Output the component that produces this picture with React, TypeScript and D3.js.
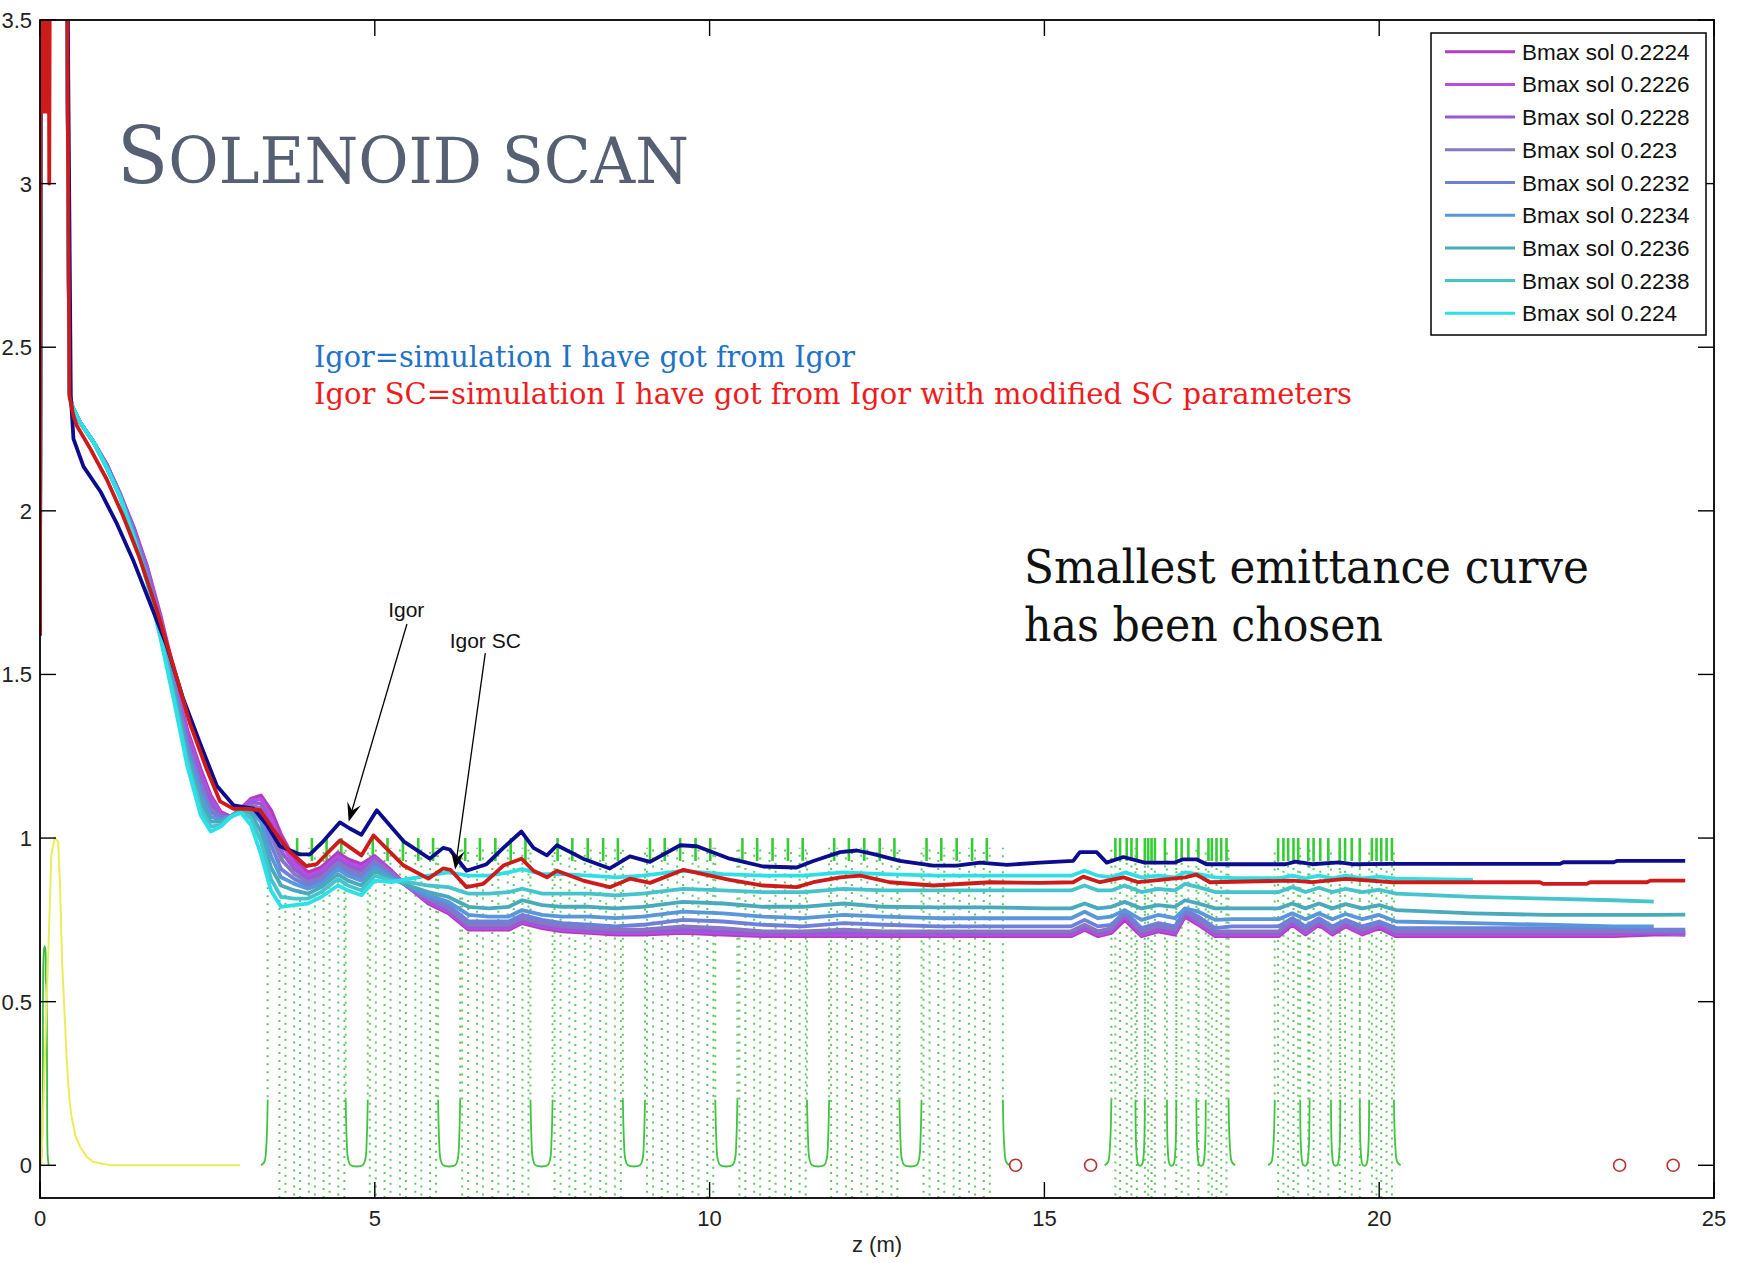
import React from 'react';
import * as d3 from 'd3';

const WIDTH = 1742;
const HEIGHT = 1263;

const X_DOMAIN: [number, number] = [0, 25];
const Y_DOMAIN: [number, number] = [-0.1, 3.5];
const xTicks = [0, 5, 10, 15, 20, 25];
const xTickLabels = ['0', '5', '10', '15', '20', '25'];
const yTicks = [0, 0.5, 1, 1.5, 2, 2.5, 3, 3.5];
const yTickLabels = ['0', '0.5', '1', '1.5', '2', '2.5', '3', '3.5'];

const legendLabels = [
  'Bmax sol 0.2224', 'Bmax sol 0.2226', 'Bmax sol 0.2228', 'Bmax sol 0.223', 'Bmax sol 0.2232',
  'Bmax sol 0.2234', 'Bmax sol 0.2236', 'Bmax sol 0.2238', 'Bmax sol 0.224',
];
const legendColors = [
  '#b23cbc', '#b64ee4', '#9858dc', '#8876c0', '#6e80dc', '#5a96da', '#48aabb', '#46c4cc', '#2ee0e6',
];

// common start (off-scale spike) of the Bmax curves
const spikeZ = [0, 0.012, 0.395, 0.44];
const spikeV = [1.62, 3.9, 3.9, 2.36];

const bmaxZ = [0.48, 0.6, 0.8, 1.0, 1.2, 1.4, 1.6, 1.8, 2.0, 2.2, 2.4, 2.55, 2.7, 2.85, 3.0, 3.15, 3.3, 3.45, 3.6, 3.8,
  4.0, 4.2, 4.45, 4.6, 4.8, 5.0, 5.25, 5.5, 5.8, 6.1, 6.4, 6.7, 7.0, 7.2, 7.5, 7.8, 8.2, 8.6, 9.0, 9.6,
  10.2, 10.8, 11.4, 12.0, 12.6, 13.4, 14.2, 15.0, 15.4, 15.6, 15.8, 16.0, 16.2, 16.45, 16.7, 16.95, 17.1, 17.3, 17.55, 17.8,
  18.5, 18.7, 18.9, 19.1, 19.3, 19.5, 19.75, 20.0, 20.25, 21.4, 22.5, 23.5, 24.1, 24.57];

const bmax2224 = [2.32, 2.27, 2.21, 2.14, 2.05, 1.95, 1.83, 1.68, 1.51, 1.33, 1.21, 1.13, 1.08, 1.065, 1.09, 1.12, 1.13, 1.085, 1.01, 0.935,
  0.895, 0.91, 0.955, 0.935, 0.92, 0.945, 0.90, 0.85, 0.80, 0.77, 0.72, 0.72, 0.72, 0.74, 0.725, 0.715, 0.71, 0.705, 0.705, 0.71,
  0.705, 0.70, 0.70, 0.70, 0.70, 0.70, 0.70, 0.70, 0.70, 0.72, 0.70, 0.71, 0.75, 0.70, 0.715, 0.705, 0.76, 0.735, 0.70, 0.70,
  0.70, 0.735, 0.705, 0.735, 0.705, 0.73, 0.705, 0.725, 0.70, 0.70, 0.70, 0.70, 0.705, 0.705];
const bmax2226 = [2.32, 2.27, 2.21, 2.14, 2.05, 1.945, 1.825, 1.67, 1.50, 1.32, 1.195, 1.12, 1.075, 1.065, 1.09, 1.115, 1.12, 1.065, 0.985, 0.92,
  0.885, 0.90, 0.945, 0.925, 0.91, 0.94, 0.895, 0.85, 0.805, 0.775, 0.725, 0.725, 0.725, 0.745, 0.73, 0.72, 0.715, 0.71, 0.71, 0.715,
  0.71, 0.705, 0.705, 0.705, 0.705, 0.705, 0.705, 0.705, 0.705, 0.725, 0.705, 0.715, 0.76, 0.705, 0.72, 0.71, 0.765, 0.74, 0.705, 0.705,
  0.705, 0.74, 0.71, 0.74, 0.71, 0.735, 0.71, 0.73, 0.705, 0.705, 0.705, 0.705, 0.71, 0.705];
const bmax2228 = [2.32, 2.27, 2.21, 2.14, 2.05, 1.94, 1.82, 1.665, 1.49, 1.305, 1.18, 1.105, 1.07, 1.065, 1.09, 1.11, 1.105, 1.04, 0.96, 0.905,
  0.875, 0.89, 0.935, 0.915, 0.90, 0.935, 0.89, 0.85, 0.81, 0.78, 0.73, 0.73, 0.73, 0.75, 0.735, 0.725, 0.72, 0.715, 0.715, 0.72,
  0.715, 0.71, 0.71, 0.71, 0.71, 0.71, 0.71, 0.71, 0.71, 0.73, 0.71, 0.72, 0.765, 0.71, 0.725, 0.715, 0.77, 0.745, 0.71, 0.71,
  0.71, 0.745, 0.715, 0.745, 0.715, 0.74, 0.715, 0.735, 0.71, 0.71, 0.71, 0.71, 0.71, 0.71];
const bmax2230 = [2.32, 2.27, 2.21, 2.135, 2.045, 1.935, 1.81, 1.655, 1.48, 1.29, 1.165, 1.09, 1.065, 1.065, 1.09, 1.10, 1.09, 1.01, 0.935, 0.89,
  0.865, 0.88, 0.925, 0.905, 0.89, 0.93, 0.89, 0.85, 0.815, 0.785, 0.735, 0.735, 0.735, 0.755, 0.74, 0.73, 0.725, 0.72, 0.72, 0.73,
  0.725, 0.715, 0.715, 0.72, 0.715, 0.715, 0.715, 0.715, 0.715, 0.735, 0.715, 0.725, 0.77, 0.715, 0.73, 0.72, 0.775, 0.75, 0.715, 0.715,
  0.715, 0.75, 0.72, 0.75, 0.72, 0.745, 0.72, 0.74, 0.715, 0.715, 0.715, 0.715, 0.715, 0.715];
const bmax2232 = [2.32, 2.27, 2.21, 2.135, 2.045, 1.935, 1.805, 1.645, 1.47, 1.28, 1.15, 1.08, 1.06, 1.065, 1.09, 1.095, 1.07, 0.98, 0.905, 0.875,
  0.855, 0.87, 0.915, 0.895, 0.88, 0.92, 0.885, 0.85, 0.82, 0.795, 0.745, 0.745, 0.745, 0.765, 0.75, 0.74, 0.735, 0.73, 0.735, 0.75,
  0.745, 0.735, 0.73, 0.74, 0.735, 0.73, 0.73, 0.73, 0.73, 0.75, 0.73, 0.735, 0.775, 0.725, 0.74, 0.73, 0.78, 0.76, 0.725, 0.73,
  0.73, 0.755, 0.73, 0.755, 0.73, 0.75, 0.73, 0.745, 0.725, 0.725, 0.725, 0.725, 0.72, 0.72];
const bmax2234 = [2.32, 2.27, 2.21, 2.135, 2.045, 1.93, 1.80, 1.64, 1.455, 1.265, 1.135, 1.065, 1.055, 1.065, 1.09, 1.085, 1.05, 0.945, 0.88, 0.86,
  0.845, 0.86, 0.905, 0.885, 0.87, 0.91, 0.88, 0.855, 0.825, 0.805, 0.765, 0.76, 0.76, 0.78, 0.765, 0.76, 0.76, 0.755, 0.76, 0.775,
  0.77, 0.76, 0.755, 0.765, 0.76, 0.755, 0.755, 0.755, 0.755, 0.775, 0.755, 0.76, 0.78, 0.75, 0.765, 0.755, 0.785, 0.775, 0.75, 0.752,
  0.752, 0.77, 0.752, 0.77, 0.752, 0.768, 0.752, 0.765, 0.745, 0.74, 0.735, 0.73, 0.73, null];
const bmax2236 = [2.32, 2.27, 2.21, 2.13, 2.04, 1.925, 1.79, 1.63, 1.445, 1.25, 1.115, 1.05, 1.05, 1.065, 1.085, 1.075, 1.02, 0.91, 0.855, 0.84,
  0.83, 0.85, 0.89, 0.87, 0.855, 0.90, 0.875, 0.855, 0.835, 0.82, 0.79, 0.785, 0.79, 0.81, 0.795, 0.79, 0.79, 0.785, 0.79, 0.805,
  0.80, 0.79, 0.79, 0.80, 0.79, 0.788, 0.788, 0.785, 0.785, 0.80, 0.785, 0.79, 0.805, 0.785, 0.795, 0.79, 0.81, 0.80, 0.785, 0.785,
  0.785, 0.80, 0.785, 0.80, 0.785, 0.798, 0.785, 0.795, 0.78, 0.77, 0.765, 0.765, 0.765, 0.766];
const bmax2238 = [2.32, 2.27, 2.21, 2.13, 2.04, 1.92, 1.785, 1.62, 1.43, 1.235, 1.09, 1.035, 1.04, 1.065, 1.08, 1.06, 0.99, 0.875, 0.82, 0.815,
  0.815, 0.835, 0.875, 0.855, 0.84, 0.885, 0.87, 0.865, 0.855, 0.85, 0.83, 0.83, 0.835, 0.845, 0.83, 0.83, 0.83, 0.825, 0.83, 0.845,
  0.84, 0.835, 0.835, 0.845, 0.84, 0.84, 0.84, 0.84, 0.84, 0.855, 0.84, 0.84, 0.855, 0.835, 0.845, 0.84, 0.86, 0.85, 0.835, 0.835,
  0.835, 0.85, 0.835, 0.848, 0.835, 0.845, 0.835, 0.842, 0.83, 0.82, 0.815, 0.81, 0.806, null];
const bmax2240 = [2.32, 2.27, 2.21, 2.13, 2.04, 1.92, 1.78, 1.61, 1.42, 1.22, 1.07, 1.02, 1.035, 1.065, 1.077, 1.04, 0.95, 0.84, 0.79, 0.795,
  0.80, 0.82, 0.855, 0.84, 0.825, 0.87, 0.865, 0.875, 0.885, 0.895, 0.885, 0.885, 0.895, 0.905, 0.89, 0.89, 0.885, 0.88, 0.885, 0.90,
  0.89, 0.885, 0.885, 0.895, 0.89, 0.885, 0.885, 0.885, 0.885, 0.90, 0.885, 0.88, 0.895, 0.88, 0.885, 0.88, 0.895, 0.89, 0.88, 0.878,
  0.877, 0.885, 0.877, 0.885, 0.877, 0.885, 0.877, 0.882, 0.876, 0.872, null, null, null, null];

const bmaxSeries = [bmax2224, bmax2226, bmax2228, bmax2230, bmax2232, bmax2234, bmax2236, bmax2238, bmax2240];

// "Igor" simulation (dark blue)
const igorPoints: [number, number][] = [
  [0, 1.62], [0.012, 3.9], [0.40, 3.9], [0.46, 2.35], [0.50, 2.22], [0.65, 2.135], [0.9, 2.06], [1.15, 1.96], [1.39, 1.85],
  [1.64, 1.72], [1.89, 1.59], [2.14, 1.425], [2.39, 1.29], [2.64, 1.16], [2.89, 1.10], [3.19, 1.09], [3.39, 1.04], [3.58, 0.976],
  [3.88, 0.95], [4.03, 0.95], [4.23, 0.99], [4.48, 1.048], [4.62, 1.03], [4.80, 1.01], [5.03, 1.085], [5.43, 0.99], [5.82, 0.937],
  [6.02, 0.97], [6.12, 0.965], [6.37, 0.90], [6.67, 0.92], [6.92, 0.97], [7.19, 1.02], [7.37, 0.97], [7.57, 0.947], [7.72, 0.978],
  [8.11, 0.937], [8.51, 0.907], [8.81, 0.944], [9.11, 0.927], [9.56, 0.978], [9.81, 0.975], [10.3, 0.937], [10.8, 0.913], [11.3, 0.91],
  [11.55, 0.93], [11.95, 0.957], [12.2, 0.962], [12.45, 0.951], [12.84, 0.93], [13.34, 0.916], [13.69, 0.916], [14.04, 0.925],
  [14.44, 0.918], [14.93, 0.925], [15.43, 0.93], [15.53, 0.957], [15.78, 0.957], [15.93, 0.925], [16.18, 0.942], [16.5, 0.925],
  [16.95, 0.925], [17.07, 0.935], [17.27, 0.935], [17.42, 0.92], [18.6, 0.92], [18.75, 0.928], [19.0, 0.92], [19.4, 0.926],
  [19.6, 0.92], [20.2, 0.921], [22.7, 0.921], [22.75, 0.926], [23.5, 0.926], [23.55, 0.93], [24.57, 0.93],
];

// "Igor SC" simulation (red)
const igorScPoints: [number, number][] = [
  [0, 1.62], [0.01, 3.9], [0.022, 3.22], [0.034, 3.9], [0.046, 3.22], [0.058, 3.9], [0.07, 3.22], [0.082, 3.9], [0.094, 3.22],
  [0.106, 3.9], [0.118, 3.25], [0.128, 3.9], [0.138, 3.0], [0.15, 3.9], [0.395, 3.9], [0.44, 2.35], [0.5, 2.29], [0.55, 2.26],
  [0.75, 2.19], [1.0, 2.095], [1.24, 1.985], [1.49, 1.855], [1.74, 1.70], [1.99, 1.527], [2.24, 1.35], [2.49, 1.21], [2.69, 1.112],
  [2.89, 1.089], [3.09, 1.09], [3.29, 1.085], [3.49, 1.024], [3.73, 0.958], [3.98, 0.914], [4.13, 0.92], [4.33, 0.962], [4.48, 0.993],
  [4.80, 0.947], [4.98, 1.008], [5.43, 0.916], [5.80, 0.876], [6.02, 0.907], [6.13, 0.903], [6.37, 0.85], [6.62, 0.86], [6.92, 0.916],
  [7.19, 0.937], [7.37, 0.90], [7.57, 0.88], [7.72, 0.90], [8.11, 0.87], [8.51, 0.85], [8.81, 0.876], [9.11, 0.863], [9.61, 0.903],
  [10.3, 0.872], [10.8, 0.855], [11.3, 0.85], [11.55, 0.865], [11.95, 0.88], [12.25, 0.885], [12.69, 0.865], [13.34, 0.855],
  [14.19, 0.865], [14.93, 0.863], [15.43, 0.865], [15.58, 0.882], [15.83, 0.865], [16.18, 0.88], [16.4, 0.865], [17.1, 0.88],
  [17.27, 0.888], [17.47, 0.865], [18.7, 0.87], [19.0, 0.865], [19.5, 0.875], [20.2, 0.865], [22.4, 0.865], [22.45, 0.86],
  [23.1, 0.86], [23.15, 0.865], [24.0, 0.865], [24.05, 0.87], [24.57, 0.87],
];

// yellow trace near the gun
const yellowPoints: [number, number][] = [
  [0.02, 0], [0.1, 0.5], [0.17, 0.95], [0.22, 1.0], [0.27, 0.99], [0.3, 0.85], [0.33, 0.62], [0.37, 0.45], [0.4, 0.32],
  [0.44, 0.2], [0.47, 0.15], [0.53, 0.09], [0.6, 0.056], [0.7, 0.025], [0.8, 0.01], [1.0, 0.002], [1.05, 0], [2.99, 0],
];
// green trace near the gun
const greenStartPoints: [number, number][] = [
  [0.0, 0], [0.02, 0.02], [0.04, 0.2], [0.05, 0.62], [0.065, 0.67], [0.08, 0.66], [0.085, 0.57], [0.095, 0.55],
  [0.105, 0.3], [0.115, 0.03], [0.13, 0],
];

// green lattice (accelerating structures)
const latticeWideU = [4.73, 6.11, 7.49, 8.87, 10.25, 11.62, 13.0];
const latticeNarrowU = [16.43, 16.9, 17.34, 18.89, 19.35, 19.78];
const latticeRise = [3.40, 16.0, 18.44];
const latticeFall = [14.38, 17.75, 20.22];
const latticeTicksA = [
  3.62, 3.84, 4.06, 4.28, 4.50, 4.97, 5.19, 5.42, 5.65, 5.87, 6.35, 6.57, 6.80, 7.03, 7.25,
  7.73, 7.95, 8.18, 8.41, 8.63, 9.11, 9.33, 9.56, 9.79, 10.01, 10.49, 10.71, 10.94, 11.17, 11.39,
  11.86, 12.08, 12.31, 12.54, 12.76, 13.24, 13.46, 13.69, 13.92, 14.14,
];
const latticeTicksBC = [
  16.06, 16.13, 16.23, 16.30, 16.38, 16.50, 16.55, 16.60, 16.65, 16.80, 16.97, 17.05, 17.15, 17.30, 17.45, 17.50, 17.57, 17.64, 17.72,
  18.49, 18.57, 18.64, 18.72, 18.79, 18.94, 19.02, 19.12, 19.24, 19.41, 19.49, 19.59, 19.71, 19.89, 19.96, 20.03, 20.11, 20.19,
];

const circleZ = [14.57, 15.69, 23.59, 24.39];

// annotations (data coordinates)
const annotations = [
  { label: 'Igor', textZ: 5.47, textV: 1.675, tailZ: 5.48, tailV: 1.654, tipZ: 4.61, tipV: 1.05 },
  { label: 'Igor SC', textZ: 6.65, textV: 1.58, tailZ: 6.65, tailV: 1.565, tipZ: 6.20, tipV: 0.904 },
];

const PLOT = { left: 40, right: 1714, top: 20, bottom: 1198 };
const AXIS_FONT = "'Liberation Sans', Arial, sans-serif";
const SERIF = "'DejaVu Serif', serif";

function Arrow({ x1, y1, x2, y2 }: { x1: number; y1: number; x2: number; y2: number }) {
  const ang = Math.atan2(y2 - y1, x2 - x1);
  const L = 19;
  const Wd = 14;
  const ex = x2 - Math.cos(ang) * L * 0.6;
  const ey = y2 - Math.sin(ang) * L * 0.6;
  return (
    <g>
      <line x1={x1} y1={y1} x2={ex} y2={ey} stroke="#000" strokeWidth={1.3} />
      <path
        d={`M0,0 L${-L},${-Wd / 2} L${-L * 0.62},0 L${-L},${Wd / 2} Z`}
        transform={`translate(${x2},${y2}) rotate(${(ang * 180) / Math.PI})`}
        fill="#000"
      />
    </g>
  );
}

export default function App() {
  const x = d3.scaleLinear().domain(X_DOMAIN).range([PLOT.left, PLOT.right]);
  const y = d3.scaleLinear().domain(Y_DOMAIN).range([PLOT.bottom, PLOT.top]);

  const line = d3
    .line<[number, number | null]>()
    .defined((d) => d[1] !== null && d[1] !== undefined)
    .x((d) => x(d[0]))
    .y((d) => y(d[1] as number));
  const smooth = d3
    .line<[number, number]>()
    .x((d) => x(d[0]))
    .y((d) => y(d[1]))
    .curve(d3.curveCatmullRom);

  const bmaxPaths = bmaxSeries.map((vals) => {
    const pts: [number, number | null][] = spikeZ.map((z, i) => [z, spikeV[i]] as [number, number]);
    bmaxZ.forEach((z, i) => {
      const v = i < vals.length ? vals[i] : null;
      pts.push([z, v === undefined ? null : v]);
    });
    return line(pts) || '';
  });

  const uWide = (c: number): [number, number][] => [
    [c - 0.165, 0.2], [c - 0.15, 0.08], [c - 0.13, 0.02], [c - 0.09, 0], [c + 0.09, 0], [c + 0.13, 0.02], [c + 0.15, 0.08], [c + 0.165, 0.2],
  ];
  const uNarrow = (c: number): [number, number][] => [
    [c - 0.07, 0.2], [c - 0.06, 0.06], [c - 0.04, 0.01], [c - 0.02, 0], [c + 0.02, 0], [c + 0.04, 0.01], [c + 0.06, 0.06], [c + 0.07, 0.2],
  ];
  const riseEdge = (e: number): [number, number][] => [[e - 0.1, 0], [e - 0.05, 0.01], [e - 0.02, 0.06], [e, 0.2]];
  const fallEdge = (e: number): [number, number][] => [[e, 0.2], [e + 0.02, 0.06], [e + 0.05, 0.01], [e + 0.1, 0]];

  const dotCols: { xp: number; y1: number; y2: number }[] = [];
  latticeTicksA.forEach((t) => {
    dotCols.push({ xp: x(t) - 3, y1: y(-0.1), y2: y(0.97) });
    dotCols.push({ xp: x(t) + 3, y1: y(-0.1), y2: y(0.97) });
  });
  latticeTicksBC.forEach((t) => dotCols.push({ xp: x(t), y1: y(-0.1), y2: y(0.97) }));
  latticeWideU.forEach((c) => {
    dotCols.push({ xp: x(c - 0.165), y1: y(0.2), y2: y(0.97) });
    dotCols.push({ xp: x(c + 0.165), y1: y(0.2), y2: y(0.97) });
  });
  latticeNarrowU.forEach((c) => {
    dotCols.push({ xp: x(c - 0.07), y1: y(0.2), y2: y(0.97) });
    dotCols.push({ xp: x(c + 0.07), y1: y(0.2), y2: y(0.97) });
  });
  latticeRise.forEach((e) => dotCols.push({ xp: x(e), y1: y(0.2), y2: y(0.97) }));
  latticeFall.forEach((e) => dotCols.push({ xp: x(e), y1: y(0.2), y2: y(0.97) }));

  const tickLen = 16;
  const rowY = (i: number) => 51.7 + i * 32.7;

  return (
    <svg
      width={WIDTH}
      height={HEIGHT}
      style={{ position: 'absolute', left: 0, top: 0, background: '#fff' }}
      xmlns="http://www.w3.org/2000/svg"
    >
      <rect x={0} y={0} width={WIDTH} height={HEIGHT} fill="#fff" />
      <defs>
        <clipPath id="plotClip">
          <rect x={PLOT.left} y={PLOT.top} width={PLOT.right - PLOT.left} height={PLOT.bottom - PLOT.top} />
        </clipPath>
      </defs>

      <g clipPath="url(#plotClip)">
        {/* green lattice dotted columns */}
        {dotCols.map((c, i) => (
          <line
            key={'dc' + i}
            x1={c.xp}
            x2={c.xp}
            y1={c.y1}
            y2={c.y2}
            stroke="#46be46"
            strokeWidth={2}
            strokeDasharray="2 6"
            strokeDashoffset={(i % 3) * 2.7}
            opacity={0.85}
          />
        ))}
        {/* lattice solid parts */}
        {latticeWideU.map((c, i) => (
          <path key={'uw' + i} d={smooth(uWide(c)) || ''} fill="none" stroke="#40c440" strokeWidth={1.8} />
        ))}
        {latticeNarrowU.map((c, i) => (
          <path key={'un' + i} d={smooth(uNarrow(c)) || ''} fill="none" stroke="#40c440" strokeWidth={1.8} />
        ))}
        {latticeRise.map((e, i) => (
          <path key={'re' + i} d={smooth(riseEdge(e)) || ''} fill="none" stroke="#40c440" strokeWidth={1.8} />
        ))}
        {latticeFall.map((e, i) => (
          <path key={'fe' + i} d={smooth(fallEdge(e)) || ''} fill="none" stroke="#40c440" strokeWidth={1.8} />
        ))}
        {[...latticeTicksA, ...latticeTicksBC].map((t, i) => (
          <line key={'tk' + i} x1={x(t)} x2={x(t)} y1={y(0.93)} y2={y(1.0)} stroke="#36cc36" strokeWidth={2.6} />
        ))}
        <path d={smooth(greenStartPoints) || ''} fill="none" stroke="#3cbc3c" strokeWidth={1.8} />
        <path d={line(yellowPoints) || ''} fill="none" stroke="#ecec5a" strokeWidth={2} />

        {/* Bmax curves */}
        {bmaxPaths.map((d, i) => (
          <path key={'bm' + i} d={d} fill="none" stroke={legendColors[i]} strokeWidth={3.8} strokeLinejoin="round" />
        ))}
        {/* Igor and Igor SC */}
        <path d={line(igorPoints) || ''} fill="none" stroke="#0c0c8e" strokeWidth={3.8} strokeLinejoin="round" />
        <path d={line(igorScPoints) || ''} fill="none" stroke="#cf1a1a" strokeWidth={3.8} strokeLinejoin="round" />

        {circleZ.map((z, i) => (
          <circle key={'c' + i} cx={x(z)} cy={y(0)} r={6} fill="none" stroke="#b83030" strokeWidth={1.6} />
        ))}
      </g>

      {/* axes box */}
      <rect
        x={PLOT.left}
        y={PLOT.top}
        width={PLOT.right - PLOT.left}
        height={PLOT.bottom - PLOT.top}
        fill="none"
        stroke="#000"
        strokeWidth={1.8}
      />
      {xTicks.map((t, i) => (
        <g key={'xt' + i}>
          <line x1={x(t)} x2={x(t)} y1={PLOT.bottom} y2={PLOT.bottom - tickLen} stroke="#000" strokeWidth={1.4} />
          <line x1={x(t)} x2={x(t)} y1={PLOT.top} y2={PLOT.top + tickLen} stroke="#000" strokeWidth={1.4} />
          <text x={x(t)} y={1226} textAnchor="middle" fontFamily={AXIS_FONT} fontSize={22} fill="#222">
            {xTickLabels[i]}
          </text>
        </g>
      ))}
      {yTicks.map((t, i) => (
        <g key={'yt' + i}>
          <line x1={PLOT.left} x2={PLOT.left + tickLen} y1={y(t)} y2={y(t)} stroke="#000" strokeWidth={1.4} />
          <line x1={PLOT.right} x2={PLOT.right - tickLen} y1={y(t)} y2={y(t)} stroke="#000" strokeWidth={1.4} />
          <text x={32} y={y(t) + 8} textAnchor="end" fontFamily={AXIS_FONT} fontSize={22} fill="#222">
            {yTickLabels[i]}
          </text>
        </g>
      ))}
      <text x={(PLOT.left + PLOT.right) / 2} y={1252} textAnchor="middle" fontFamily={AXIS_FONT} fontSize={22} fill="#222">
        z (m)
      </text>

      {/* legend */}
      <rect x={1431} y={33} width={275} height={302} fill="#fff" stroke="#000" strokeWidth={1.5} />
      {legendLabels.map((lab, i) => (
        <g key={'lg' + i}>
          <line x1={1445} x2={1515} y1={rowY(i)} y2={rowY(i)} stroke={legendColors[i]} strokeWidth={3} />
          <text x={1522} y={rowY(i) + 8} fontFamily={AXIS_FONT} fontSize={22.5} fill="#111">
            {lab}
          </text>
        </g>
      ))}

      {/* annotations */}
      {annotations.map((a, i) => (
        <g key={'an' + i}>
          <Arrow x1={x(a.tailZ)} y1={y(a.tailV)} x2={x(a.tipZ)} y2={y(a.tipV)} />
          <text x={x(a.textZ)} y={y(a.textV)} textAnchor="middle" fontFamily={AXIS_FONT} fontSize={21} fill="#111">
            {a.label}
          </text>
        </g>
      ))}

      {/* slide texts */}
      <text x={117} y={183} fill="#566072" fontFamily={SERIF} textLength={572} lengthAdjust="spacingAndGlyphs">
        <tspan fontSize={78}>S</tspan>
        <tspan fontSize={64}>OLENOID SCAN</tspan>
      </text>
      <text x={314} y={367} fill="#1e72c8" fontFamily={SERIF} fontSize={30} textLength={541} lengthAdjust="spacingAndGlyphs">
        Igor=simulation I have got from Igor
      </text>
      <text x={314} y={404} fill="#ee1c1c" fontFamily={SERIF} fontSize={30} textLength={1038} lengthAdjust="spacingAndGlyphs">
        Igor SC=simulation I have got from Igor with modified SC parameters
      </text>
      <text x={1024} y={583} fill="#111" fontFamily={SERIF} fontSize={47} textLength={565} lengthAdjust="spacingAndGlyphs">
        Smallest emittance curve
      </text>
      <text x={1024} y={641} fill="#111" fontFamily={SERIF} fontSize={47} textLength={359} lengthAdjust="spacingAndGlyphs">
        has been chosen
      </text>
    </svg>
  );
}
